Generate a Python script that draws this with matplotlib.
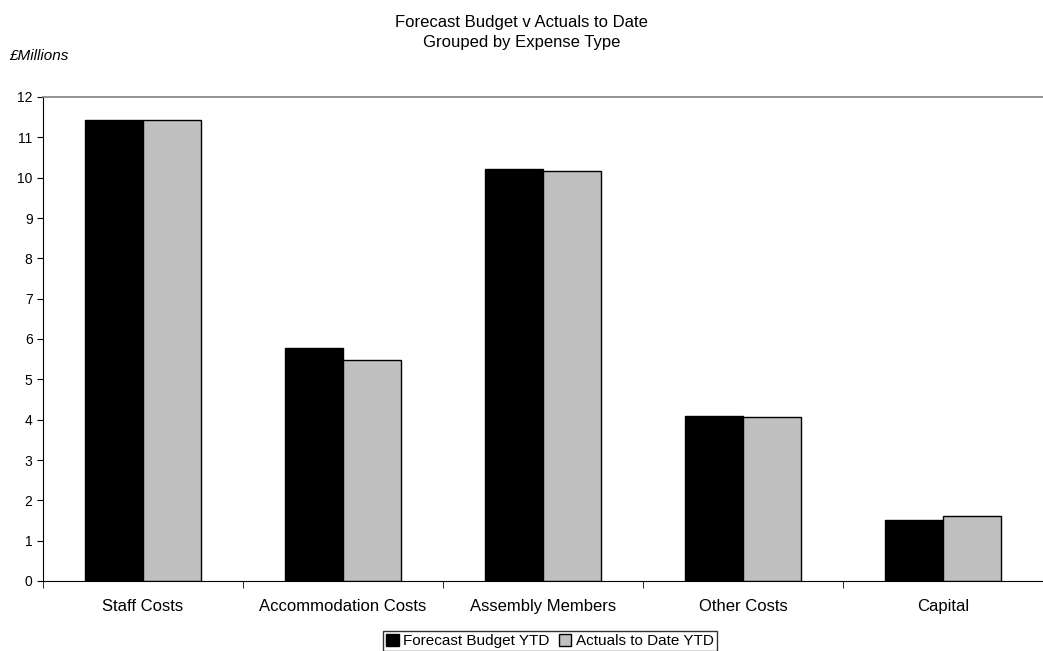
import numpy as np
import matplotlib.pyplot as plt

categories = ["Staff Costs", "Accommodation Costs", "Assembly Members", "Other Costs", "Capital"]
forecast = [11.42, 5.78, 10.22, 4.08, 1.51]
actuals = [11.42, 5.48, 10.16, 4.07, 1.61]

plt.rcParams['font.family'] = ['Liberation Sans', 'DejaVu Sans']

fig = plt.figure(figsize=(10.43, 6.51), dpi=100)
ax = fig.add_axes([43/1043, 1 - 581/651, 1 - 43/1043, (581 - 97)/651])

x = np.arange(len(categories))
w = 0.29
ax.bar(x - w/2, forecast, w, color="black", edgecolor="black", linewidth=1, label="Forecast Budget YTD")
ax.bar(x + w/2, actuals, w, color="#c0c0c0", edgecolor="black", linewidth=1, label="Actuals to Date YTD")

ax.set_xlim(-0.5, len(categories) - 0.5)
ax.set_ylim(0, 12)
ax.set_yticks(range(0, 13))
ax.tick_params(axis='y', labelsize=10, length=4, direction='out')
ax.set_xticks(x)
ax.set_xticklabels(categories, fontsize=12)
ax.tick_params(axis='x', length=0, pad=13)
ax.set_xticks(np.arange(-0.5, len(categories), 1), minor=True)
ax.tick_params(axis='x', which='minor', length=5, direction='out')

ax.spines['right'].set_visible(False)
ax.spines['top'].set_color("#808080")
ax.spines['top'].set_linewidth(1.2)

fig.text(0.5, 1 - 27/651, "Forecast Budget v Actuals to Date", ha='center', va='baseline', fontsize=12)
fig.text(0.5, 1 - 47/651, "Grouped by Expense Type", ha='center', va='baseline', fontsize=12)
fig.text(9/1043, 1 - 56/651, "£Millions", ha='left', va='center', fontsize=11, style='italic')

leg = fig.legend(loc='center', bbox_to_anchor=(550/1043, 1 - 641/651), ncol=2, fontsize=11,
                 frameon=True, fancybox=False, edgecolor="black", handlelength=0.8,
                 handleheight=0.8, handletextpad=0.3, columnspacing=0.6, borderpad=0.2,
                 borderaxespad=0)
leg.get_frame().set_linewidth(1)

fig.savefig("out.png", dpi=100)
